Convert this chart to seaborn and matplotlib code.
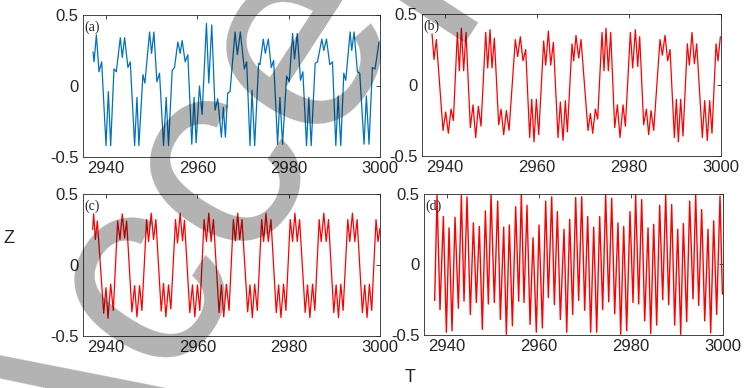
import matplotlib
matplotlib.use("Agg")
import matplotlib.pyplot as plt
import seaborn as sns
import pandas as pd

# ---------------- data ----------------
t_a = [2937.19, 2937.41, 2937.92, 2938.50, 2939.08, 2940.03, 2940.54, 2941.05, 2941.77, 2942.28,
       2943.16, 2943.59, 2944.10, 2944.83, 2945.34, 2946.29, 2946.80, 2947.23, 2948.11, 2948.54,
       2949.56, 2950.00, 2950.51, 2951.16, 2951.74, 2952.62, 2953.20, 2953.71, 2954.51, 2955.02,
       2955.75, 2956.26, 2956.69, 2957.35, 2957.93, 2958.80, 2959.31, 2959.75, 2960.48, 2961.06,
       2962.01, 2962.52, 2963.17, 2963.90, 2964.48, 2965.28, 2965.72, 2966.15, 2966.66, 2967.17,
       2968.27, 2968.78, 2969.43, 2970.30, 2970.81, 2971.54, 2971.98, 2972.56, 2973.43, 2973.72,
       2974.45, 2974.89, 2975.54, 2976.20, 2976.71, 2977.58, 2978.09, 2978.67, 2979.55, 2980.13,
       2980.86, 2981.29, 2981.88, 2982.60, 2983.11, 2983.91, 2984.42, 2984.93, 2985.80, 2986.31,
       2987.26, 2987.70, 2988.28, 2989.01, 2989.59, 2990.32, 2990.83, 2991.41, 2992.07, 2992.50,
       2993.45, 2993.81, 2994.32, 2995.05, 2995.56, 2996.50, 2997.01, 2997.59, 2998.33, 2998.90,
       2999.78]
z_a = [0.24, 0.17, 0.36, 0.10, 0.17, -0.42, -0.04, -0.42, 0.12, 0.10,
       0.34, 0.20, 0.34, 0.13, 0.17, -0.42, -0.08, -0.42, 0.08, 0.02,
       0.38, 0.23, 0.38, 0.03, 0.09, -0.42, -0.08, -0.42, 0.11, 0.13,
       0.31, 0.23, 0.32, 0.17, 0.22, -0.41, -0.08, -0.40, 0.00, -0.20,
       0.44, 0.02, 0.43, -0.17, -0.09, -0.36, -0.15, -0.36, -0.05, -0.04,
       0.38, 0.22, 0.38, 0.12, 0.17, -0.42, -0.03, -0.42, 0.16, 0.15,
       0.33, 0.23, 0.33, 0.13, 0.18, -0.41, -0.08, -0.41, 0.07, 0.03,
       0.37, 0.19, 0.37, 0.04, 0.10, -0.42, -0.08, -0.42, 0.16, 0.17,
       0.33, 0.25, 0.33, 0.15, 0.17, -0.42, -0.07, -0.42, 0.09, 0.04,
       0.38, 0.25, 0.38, 0.10, 0.09, -0.41, -0.07, -0.41, 0.13, 0.12,
       0.31]

t_b = [2937.18, 2937.61, 2938.12,
       2939.57, 2940.15, 2940.73, 2941.31, 2941.82, 2942.69, 2943.12, 2943.56, 2944.06, 2944.57,
       2945.51, 2946.09, 2946.67, 2947.25, 2947.83, 2948.85, 2949.28, 2949.79, 2950.22, 2950.73,
       2951.67, 2952.18, 2952.76, 2953.34, 2953.92, 2955.29, 2955.80, 2956.38, 2956.96, 2957.54,
       2958.41, 2958.85, 2959.35, 2959.86, 2960.37, 2961.45, 2961.89, 2962.47, 2962.98, 2963.56,
       2964.57, 2965.08, 2965.66, 2966.16, 2966.60, 2967.61, 2967.98, 2968.48, 2969.06, 2969.57,
       2971.09, 2971.60, 2972.11, 2972.69, 2973.19, 2974.13, 2974.57, 2975.00, 2975.51, 2976.02,
       2976.89, 2977.47, 2978.05, 2978.70, 2979.21, 2980.29, 2980.80, 2981.38, 2981.89, 2982.32,
       2983.19, 2983.77, 2984.28, 2984.79, 2985.37, 2986.74, 2987.25, 2987.83, 2988.41, 2988.92,
       2989.86, 2990.29, 2990.73, 2991.23, 2991.74, 2992.68, 2993.12, 2993.70, 2994.21, 2994.71,
       2995.94, 2996.45, 2997.03, 2997.54, 2998.04, 2998.92, 2999.35, 2999.86]
z_b = [0.36, 0.18, 0.32,
       -0.32, -0.19, -0.34, -0.17, -0.25, 0.37, 0.10, 0.40, 0.10, 0.37,
       -0.30, -0.14, -0.37, -0.15, -0.29, 0.37, 0.12, 0.39, 0.12, 0.33,
       -0.28, -0.17, -0.35, -0.18, -0.32, 0.32, 0.20, 0.34, 0.17, 0.25,
       -0.37, -0.10, -0.40, -0.10, -0.35, 0.31, 0.14, 0.38, 0.14, 0.30,
       -0.37, -0.12, -0.39, -0.11, -0.33, 0.29, 0.17, 0.35, 0.19, 0.32,
       -0.32, -0.20, -0.34, -0.17, -0.24, 0.37, 0.10, 0.40, 0.10, 0.37,
       -0.30, -0.14, -0.37, -0.14, -0.29, 0.37, 0.12, 0.39, 0.13, 0.34,
       -0.28, -0.17, -0.35, -0.18, -0.32, 0.32, 0.21, 0.35, 0.17, 0.25,
       -0.37, -0.10, -0.40, -0.10, -0.36, 0.29, 0.14, 0.37, 0.15, 0.29,
       -0.37, -0.11, -0.39, -0.11, -0.34, 0.29, 0.17, 0.34]

t_c = [2937.11, 2937.33, 2937.70, 2938.13,
       2939.52, 2940.03, 2940.46, 2941.05, 2941.63, 2942.57, 2943.08, 2943.59, 2944.10, 2944.54,
       2945.70, 2946.29, 2946.79, 2947.38, 2947.89, 2948.91, 2949.34, 2949.92, 2950.43, 2950.94,
       2952.11, 2952.62, 2953.13, 2953.71, 2954.22, 2955.24, 2955.68, 2956.26, 2956.77, 2957.20,
       2958.37, 2958.95, 2959.46, 2960.04, 2960.55, 2961.50, 2962.01, 2962.52, 2963.03, 2963.54,
       2964.77, 2965.28, 2965.79, 2966.37, 2966.96, 2967.90, 2968.34, 2968.85, 2969.28, 2969.79,
       2971.03, 2971.54, 2972.05, 2972.56, 2973.14, 2974.09, 2974.53, 2975.04, 2975.54, 2976.13,
       2977.29, 2977.80, 2978.31, 2978.89, 2979.40, 2980.35, 2980.86, 2981.37, 2981.88, 2982.39,
       2983.62, 2984.13, 2984.64, 2985.23, 2985.73, 2986.68, 2987.12, 2987.70, 2988.21, 2988.72,
       2989.88, 2990.39, 2990.90, 2991.41, 2991.92, 2992.94, 2993.38, 2993.96, 2994.47, 2994.98,
       2996.14, 2996.65, 2997.16, 2997.67, 2998.18, 2999.12, 2999.56, 3000.00]
z_c = [0.25, 0.36, 0.18, 0.31,
       -0.34, -0.16, -0.375, -0.135, -0.32, 0.31, 0.18, 0.36, 0.19, 0.31,
       -0.33, -0.145, -0.365, -0.145, -0.32, 0.32, 0.165, 0.365, 0.18, 0.32,
       -0.325, -0.13, -0.365, -0.14, -0.31, 0.32, 0.155, 0.365, 0.17, 0.315,
       -0.335, -0.14, -0.365, -0.14, -0.32, 0.32, 0.165, 0.365, 0.165, 0.32,
       -0.335, -0.14, -0.365, -0.135, -0.32, 0.32, 0.17, 0.365, 0.18, 0.32,
       -0.33, -0.14, -0.37, -0.135, -0.32, 0.32, 0.165, 0.365, 0.165, 0.32,
       -0.335, -0.14, -0.37, -0.135, -0.32, 0.32, 0.165, 0.365, 0.165, 0.32,
       -0.335, -0.14, -0.37, -0.135, -0.32, 0.32, 0.165, 0.365, 0.165, 0.32,
       -0.335, -0.14, -0.37, -0.135, -0.32, 0.32, 0.165, 0.365, 0.165, 0.32,
       -0.335, -0.14, -0.37, -0.135, -0.32, 0.32, 0.165, 0.26]

t_d = [2937.32, 2937.83, 2938.48, 2939.21, 2939.86, 2940.44, 2941.09, 2941.74, 2942.47, 2943.12,
       2943.70, 2944.35, 2945.07, 2945.73, 2946.38, 2947.03, 2947.68, 2948.34, 2948.99, 2949.57,
       2950.29, 2951.02, 2951.60, 2952.32, 2952.90, 2953.55, 2954.21, 2954.93, 2955.58, 2956.16,
       2956.74, 2957.39, 2958.05, 2958.70, 2959.42, 2960.00, 2960.73, 2961.45, 2962.03, 2962.76,
       2963.34, 2963.99, 2964.64, 2965.44, 2966.02, 2966.67, 2967.32, 2967.97, 2968.62, 2969.28,
       2969.93, 2970.58, 2971.23, 2971.89, 2972.54, 2973.19, 2973.84, 2974.49, 2975.15, 2975.80,
       2976.45, 2977.17, 2977.75, 2978.41, 2979.06, 2979.78, 2980.44, 2981.01, 2981.67, 2982.32,
       2982.97, 2983.70, 2984.28, 2984.93, 2985.58, 2986.23, 2986.89, 2987.54, 2988.19, 2988.84,
       2989.49, 2990.15, 2990.80, 2991.38, 2992.10, 2992.75, 2993.48, 2994.06, 2994.71, 2995.36,
       2996.02, 2996.74, 2997.32, 2997.97, 2998.62, 2999.35, 2999.86]
z_d = [-0.255, 0.49, -0.32, 0.34, -0.48, 0.26, -0.47, 0.335, -0.31, 0.49,
       -0.26, 0.48, -0.355, 0.295, -0.27, 0.27, -0.46, 0.38, -0.28, 0.495,
       -0.27, 0.45, -0.39, 0.265, -0.495, 0.28, -0.435, 0.41, -0.26, 0.50,
       -0.27, 0.42, -0.425, 0.19, -0.48, 0.28, -0.45, 0.45, -0.235, 0.48,
       -0.285, 0.375, -0.39, 0.25, -0.48, 0.32, -0.355, 0.475, -0.255, 0.48,
       -0.325, 0.34, -0.48, 0.265, -0.48, 0.34, -0.32, 0.495, -0.265, 0.47,
       -0.35, 0.295, -0.495, 0.27, -0.47, 0.375, -0.27, 0.495, -0.28, 0.46,
       -0.40, 0.26, -0.49, 0.285, -0.43, 0.42, -0.25, 0.495, -0.285, 0.425,
       -0.43, 0.25, -0.495, 0.29, -0.405, 0.45, -0.245, 0.495, -0.29, 0.39,
       -0.40, 0.25, -0.485, 0.31, -0.355, 0.485, -0.21]

x_ticks = [2940, 2960, 2980, 3000]
x_ticklabels = ["2940", "2960", "2980", "3000"]
y_ticks = [-0.5, 0, 0.5]
y_ticklabels = ["-0.5", "0", "0.5"]
panel_labels = ["(a)", "(b)", "(c)", "(d)"]
x_label = "T"
y_label = "Z"
watermark = "Accepted"

# ---------------- style ----------------
sns.set_theme(style="white")
plt.rcParams['font.family'] = ['Liberation Sans', 'DejaVu Sans']
plt.rcParams['axes.linewidth'] = 0.6

fig = plt.figure(figsize=(7.44, 3.88), dpi=100)
rects = [[0.1116, 0.5954, 0.3992, 0.3660],
         [0.5672, 0.5979, 0.4019, 0.3660],
         [0.1116, 0.1340, 0.3992, 0.3660],
         [0.5699, 0.1366, 0.4019, 0.3634]]
series = [(t_a, z_a, "#0072BD", 0.9),
          (t_b, z_b, "#FF0000", 0.9),
          (t_c, z_c, "#FF0000", 0.9),
          (t_d, z_d, "#FF0000", 1.0)]

for rect, (t, z, col, lw), lab in zip(rects, series, panel_labels):
    ax = fig.add_axes(rect)
    df = pd.DataFrame({"T": t, "Z": z})
    sns.lineplot(data=df, x="T", y="Z", ax=ax, color=col, linewidth=lw,
                 estimator=None, errorbar=None)
    ax.set_xlim(2935, 3000)
    ax.set_ylim(-0.5, 0.5)
    ax.set_xticks(x_ticks)
    ax.set_xticklabels(x_ticklabels)
    ax.set_yticks(y_ticks)
    ax.set_yticklabels(y_ticklabels)
    ax.set_xlabel("")
    ax.set_ylabel("")
    ax.tick_params(direction="in", length=3, width=0.6, top=True, right=True,
                   labelsize=12, colors="#262626", pad=3)
    for s in ax.spines.values():
        s.set_color("#262626")
        s.set_linewidth(0.6)
    ax.text(0.005, 0.915, lab, transform=ax.transAxes, ha="left", va="center",
            fontsize=10, family=["Liberation Serif", "DejaVu Serif"], color="#222222")

fig.text(0.012, 0.385, y_label, fontsize=13, ha="center", va="center", color="#262626")
fig.text(0.551, 0.026, x_label, fontsize=13, ha="center", va="center", color="#262626")

# journal watermark crossing the figure diagonally
fig.text(0.0954, -0.3995, watermark, rotation=57, rotation_mode="anchor", ha="left",
         va="baseline", fontsize=200, color="black", alpha=0.3, zorder=10,
         family=["Liberation Sans", "DejaVu Sans"])

fig.savefig("out.png", dpi=100)
